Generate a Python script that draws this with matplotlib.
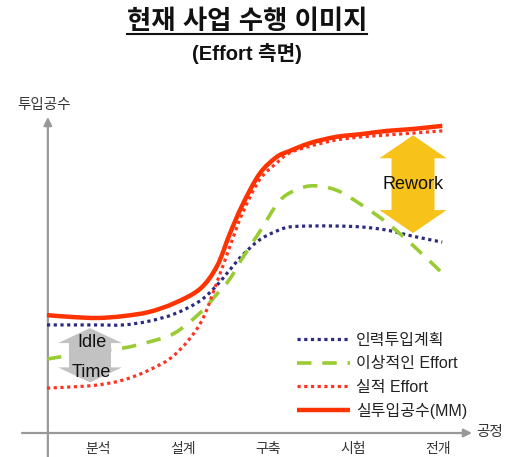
import numpy as np
import matplotlib
matplotlib.use("Agg")
import matplotlib.pyplot as plt
from matplotlib.patches import Polygon, PathPatch
from matplotlib.path import Path
from matplotlib.lines import Line2D

plt.rcParams['font.family'] = ['Liberation Sans', 'Noto Sans CJK KR', 'DejaVu Sans']

# ---------------- data ----------------
categories = ['분석', '설계', '구축', '시험', '전개']
x_stage = [0.4, 0.7, 1.0, 1.3, 1.6, 1.9, 2.2, 2.4, 2.55, 2.7, 2.9, 3.1, 3.25,
           3.5, 3.8, 4.1, 4.4, 4.7, 5.05]
plan = [34.2, 34.2, 34.2, 34.2, 35.4, 37.7, 41.8, 46.8, 51.6, 56.3, 61.1, 63.9,
        65.2, 65.5, 65.5, 65.2, 64.2, 62.3, 60.4]            # 인력투입계획
ideal = [23.4, 24.7, 25.9, 26.9, 28.8, 31.6, 38.0, 44.0, 48.7, 55.4, 63.6, 72.2,
         75.9, 78.2, 76.9, 72.2, 66.5, 59.5, 50.6]           # 이상적인 Effort
actual = [14.2, 14.6, 15.2, 16.8, 19.9, 24.7, 34.5, 47.8, 58.9, 69.6, 80.1, 85.4,
          88.6, 90.8, 92.7, 93.7, 94.3, 94.9, 95.6]          # 실적 Effort
mm = [37.3, 36.7, 36.4, 37.0, 38.3, 41.1, 45.6, 52.8, 63.0, 72.2, 82.0, 87.3,
      89.2, 91.8, 93.7, 94.6, 95.6, 96.2, 97.2]              # 실투입공수(MM)
series_labels = ['인력투입계획', '이상적인 Effort', '실적 Effort', '실투입공수(MM)']

# ---------------- figure ----------------
W, H = 515, 457
fig = plt.figure(figsize=(W / 100, H / 100), dpi=100)
ax = fig.add_axes([0, 0, 1, 1])
xlim = (-13 / 85, (W - 13) / 85)
ylim = ((433 - H) / 3.16, 433 / 3.16)
ax.set_xlim(*xlim)
ax.set_ylim(*ylim)
ax.axis('off')
pxx = W / (xlim[1] - xlim[0])
pxy = H / (ylim[1] - ylim[0])

axis_col = '#999999'
y_axis_x = 0.41
ax.annotate('', xy=(y_axis_x, 100), xytext=(y_axis_x, ylim[0]),
            arrowprops=dict(arrowstyle='-|>', color=axis_col, lw=1.6,
                            mutation_scale=12, shrinkA=0, shrinkB=0))
ax.annotate('', xy=(5.4, 0), xytext=(0.106, 0),
            arrowprops=dict(arrowstyle='-|>', color=axis_col, lw=1.6,
                            mutation_scale=12, shrinkA=0, shrinkB=0))


def smooth_curve(xs, ys, **kw):
    """Draw a smooth (Catmull-Rom -> Bezier) curve through the data points."""
    P = np.column_stack([xs, ys]).astype(float)
    n = len(P)
    verts = [P[0]]
    codes = [Path.MOVETO]
    for i in range(n - 1):
        p0 = P[i - 1] if i > 0 else P[i]
        p1, p2 = P[i], P[i + 1]
        p3 = P[i + 2] if i + 2 < n else P[i + 1]
        c1 = p1 + (p2 - p0) / 6
        c2 = p2 - (p3 - p1) / 6
        verts += [c1, c2, p2]
        codes += [Path.CURVE4] * 3
    patch = PathPatch(Path(verts, codes), fill=False, **kw)
    ax.add_patch(patch)
    return patch


st_plan = dict(color='#2b2b7f', lw=2.3, linestyle=(0, (1, 1.1)), capstyle='butt')
st_ideal = dict(color='#99cc33', lw=2.6, linestyle=(0, (4, 3)), capstyle='butt')
st_act = dict(color='#ff3322', lw=2.3, linestyle=(0, (1, 1.1)), capstyle='butt')
st_mm = dict(color='#ff3300', lw=3.2, linestyle='-', capstyle='butt')

smooth_curve(x_stage, plan, zorder=3, **st_plan)
smooth_curve(x_stage, ideal, zorder=3, **st_ideal)
smooth_curve(x_stage, actual, zorder=3, **st_act)
smooth_curve(x_stage, mm, zorder=4, **st_mm)


def proxy(st):
    return Line2D([], [], color=st['color'], lw=st['lw'], linestyle=st['linestyle'],
                  dash_capstyle='butt', solid_capstyle='butt')


def double_arrow(xc, ytop, ybot, head_w, shaft_w, head_len, color):
    hw = head_w / 2 / pxx
    sw = shaft_w / 2 / pxx
    hl = head_len / pxy
    pts = [(xc - sw, ytop - hl), (xc - hw, ytop - hl), (xc, ytop),
           (xc + hw, ytop - hl), (xc + sw, ytop - hl), (xc + sw, ybot + hl),
           (xc + hw, ybot + hl), (xc, ybot), (xc - hw, ybot + hl),
           (xc - sw, ybot + hl)]
    ax.add_patch(Polygon(pts, closed=True, facecolor=color, edgecolor='none',
                         zorder=5))


# Idle time arrow (between plan and actual effort)
xi = 0.906
itop = np.interp(xi, x_stage, plan) - 1.0
ibot = np.interp(xi, x_stage, actual) + 1.0
double_arrow(xi, itop, ibot, 64, 42, 15, '#c2c2c2')
ax.text(xi + 0.02, itop - 14 / pxy, 'Idle', ha='center', va='center',
        fontsize=13, color='#111111', zorder=6)
ax.text(xi + 0.02, ibot + 10 / pxy, 'Time', ha='center', va='center',
        fontsize=13, color='#111111', zorder=6)

# Rework arrow (between actual effort and plan)
xr = 4.706
rtop = np.interp(xr, x_stage, actual) - 0.7
rbot = np.interp(xr, x_stage, plan) + 1.0
double_arrow(xr, rtop, rbot, 67, 43, 23, '#f7c21a')
ax.text(xr, (rtop + rbot) / 2, 'Rework', ha='center', va='center',
        fontsize=13, color='#111111', zorder=6)

# category labels
for i, c in enumerate(categories):
    ax.text(i + 1, (433 - 449) / 3.16, c, ha='center', va='center',
            fontsize=10, color='#333333')

ax.text(5.45, 0.3, '공정', ha='left', va='center', fontsize=10.5, color='#333333')
ax.text(0.05, (433 - 105) / 3.16, '투입공수', ha='left', va='center',
        fontsize=10.5, color='#333333')

# legend
leg = ax.legend([proxy(st_plan), proxy(st_ideal), proxy(st_act), proxy(st_mm)],
                series_labels, frameon=False,
                loc='upper left', bbox_to_anchor=(297 / W, 1 - 333 / H),
                bbox_transform=fig.transFigure, fontsize=11.5,
                handlelength=3.3, handletextpad=0.4, labelspacing=0.52,
                borderpad=0, borderaxespad=0)
for t in leg.get_texts():
    t.set_color('#222222')

# titles
title = fig.text(247 / W, 1 - 22 / H, '현재 사업 수행 이미지', ha='center',
                 va='center', fontsize=19, fontweight='bold', color='#111111')
fig.text(247 / W, 1 - 53 / H, '(Effort 측면)', ha='center', va='center',
         fontsize=14.5, fontweight='bold', color='#111111')

fig.canvas.draw()
bb = title.get_window_extent()
uy = 1 - 34 / H
fig.add_artist(Line2D([bb.x0 / W, bb.x1 / W], [uy, uy], transform=fig.transFigure,
                      color='#111111', lw=1.5))

fig.savefig('out.png', dpi=100)
